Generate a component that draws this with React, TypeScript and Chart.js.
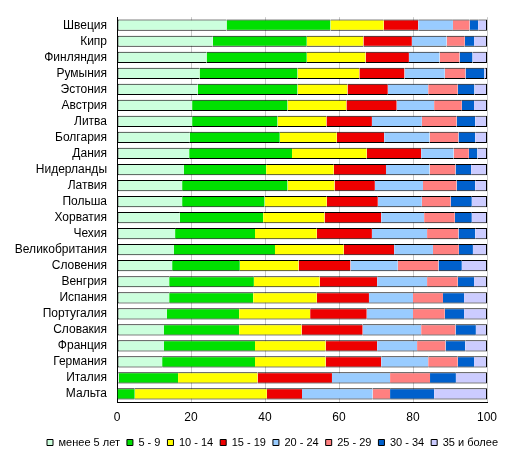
import React, { useEffect, useRef } from 'react';
import { Chart, registerables } from 'chart.js';

Chart.register(...registerables);

const countries = [
  'Швеция', 'Кипр', 'Финляндия', 'Румыния', 'Эстония', 'Австрия', 'Литва', 'Болгария',
  'Дания', 'Нидерланды', 'Латвия', 'Польша', 'Хорватия', 'Чехия', 'Великобритания', 'Словения',
  'Венгрия', 'Испания', 'Португалия', 'Словакия', 'Франция', 'Германия', 'Италия', 'Мальта',
];

const ageGroups = ['менее 5 лет', '5 - 9', '10 - 14', '15 - 19', '20 - 24', '25 - 29', '30 - 34', '35 и более'];

const under5 = [29.6, 25.9, 24.2, 22.3, 21.8, 20.3, 20.3, 19.7, 19.5, 18.1, 17.6, 17.6, 17.0, 15.7, 15.4, 14.9, 14.1, 14.1, 13.5, 12.7, 12.7, 12.2, 0.5, 0];
const from5to9 = [28.1, 25.4, 27.1, 26.5, 27.0, 25.8, 23.1, 24.3, 27.8, 22.2, 28.5, 22.3, 22.5, 21.6, 27.3, 18.3, 22.9, 22.7, 19.5, 20.3, 24.6, 25.1, 16.0, 4.8];
const from10to14 = [14.4, 15.3, 15.9, 16.7, 13.5, 15.9, 13.2, 15.4, 20.2, 18.3, 12.7, 16.8, 16.6, 16.7, 18.6, 15.9, 17.8, 17.2, 19.2, 16.9, 19.1, 19.1, 21.5, 35.7];
const from15to19 = [9.3, 13.1, 11.7, 12.2, 10.9, 13.6, 12.3, 12.8, 14.7, 14.1, 10.9, 13.8, 15.3, 14.9, 13.6, 14.0, 15.5, 14.1, 15.3, 16.5, 13.9, 15.0, 20.1, 9.5];
const from20to24 = [9.4, 9.4, 8.3, 10.9, 10.9, 10.1, 13.5, 12.3, 8.8, 11.8, 13.0, 11.9, 11.6, 14.9, 10.5, 12.8, 13.5, 11.9, 12.5, 15.8, 10.8, 12.7, 15.7, 19.1];
const from25to29 = [4.5, 4.9, 5.4, 5.6, 8.0, 7.5, 9.4, 7.8, 4.1, 7.0, 9.1, 7.8, 8.3, 8.5, 7.0, 11.0, 8.3, 8.1, 8.6, 9.3, 7.7, 8.0, 10.8, 4.7];
const from30to34 = [2.3, 2.5, 3.5, 5.1, 4.5, 3.3, 5.0, 4.5, 2.3, 4.2, 5.0, 5.7, 4.6, 4.5, 3.8, 6.3, 4.4, 5.7, 5.2, 5.5, 5.3, 4.4, 7.0, 11.9];
const over35 = [2.4, 3.5, 3.9, 0.7, 3.4, 3.5, 3.2, 3.2, 2.6, 4.3, 3.2, 4.1, 4.1, 3.2, 3.8, 6.8, 3.5, 6.2, 6.2, 3.0, 5.9, 3.5, 8.4, 14.3];

const xTicks = [0, 20, 40, 60, 80, 100];

const seriesValues = [under5, from5to9, from10to14, from15to19, from20to24, from25to29, from30to34, over35];
const colors = ['#ccffdd', '#00e000', '#ffff00', '#ee0000', '#99ccff', '#ff8080', '#0060cc', '#ccccff'];

const FONT = '"Liberation Sans", Arial, sans-serif';

// nudge the legend right so it sits under the plot like the original
const legendShift = {
  id: 'legendShift',
  afterLayout(chart: any) {
    if (chart.legend) {
      chart.legend.left += 29;
      chart.legend.right += 29;
    }
  },
};

export default function App() {
  const canvasRef = useRef<HTMLCanvasElement | null>(null);
  const chartRef = useRef<Chart<'bar'> | null>(null);

  useEffect(() => {
    if (!canvasRef.current) return;
    if (chartRef.current) chartRef.current.destroy();

    const last = seriesValues.length - 1;
    const datasets = seriesValues.map((values, i) => ({
      label: ageGroups[i],
      data: values,
      backgroundColor: colors[i],
      borderColor: '#000000',
      borderWidth: { top: 1, bottom: 1, left: i === 0 ? 1 : 0, right: i === last ? 1 : 0 },
      borderSkipped: false as const,
      barPercentage: 0.7,
      categoryPercentage: 1,
    }));

    chartRef.current = new Chart(canvasRef.current, {
      type: 'bar',
      data: { labels: countries, datasets },
      plugins: [legendShift],
      options: {
        indexAxis: 'y',
        animation: false,
        responsive: true,
        maintainAspectRatio: false,
        layout: { padding: { top: 14, right: 26, left: 0, bottom: 0 } },
        scales: {
          x: {
            stacked: true,
            min: 0,
            max: 100,
            afterBuildTicks: (scale: any) => {
              scale.ticks = xTicks.map((v) => ({ value: v }));
            },
            afterFit: (scale: any) => {
              scale.height = 28;
            },
            grid: { color: '#c8c8c8', drawTicks: false },
            border: { color: '#000000' },
            ticks: { color: '#000000', padding: 8, font: { family: FONT, size: 12 } },
          },
          y: {
            stacked: true,
            afterFit: (scale: any) => {
              scale.width = 117;
            },
            grid: { display: false, drawTicks: false },
            border: { color: '#000000' },
            ticks: { color: '#000000', padding: 10, autoSkip: false, font: { family: FONT, size: 12 } },
          },
        },
        plugins: {
          tooltip: { enabled: false },
          legend: {
            position: 'bottom',
            labels: {
              color: '#000000',
              boxWidth: 6,
              boxHeight: 6,
              padding: 7,
              font: { family: FONT, size: 11 },
              generateLabels: (chart: any) =>
                chart.data.datasets.map((ds: any, i: number) => ({
                  text: ds.label,
                  fillStyle: ds.backgroundColor,
                  strokeStyle: '#000000',
                  lineWidth: 1,
                  hidden: false,
                  datasetIndex: i,
                })),
            },
          },
        },
      },
    });

    return () => {
      if (chartRef.current) {
        chartRef.current.destroy();
        chartRef.current = null;
      }
    };
  }, []);

  return (
    <div style={{ position: 'fixed', left: 0, top: 0, width: 513, height: 458, background: '#ffffff' }}>
      <canvas ref={canvasRef}></canvas>
    </div>
  );
}
